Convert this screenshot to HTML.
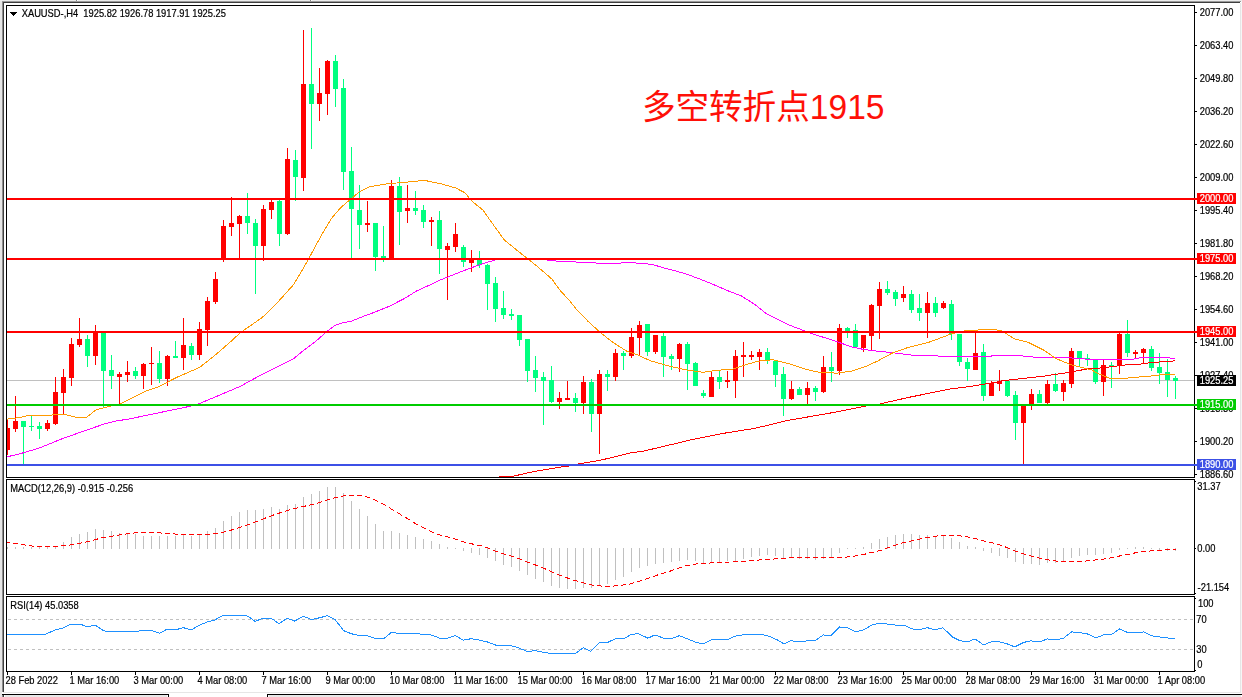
<!DOCTYPE html><html><head><meta charset="utf-8"><title>XAUUSD H4</title>
<style>html,body{margin:0;padding:0;background:#fff;}body{width:1242px;height:697px;overflow:hidden;font-family:"Liberation Sans",sans-serif;}svg{display:block;}text{font-family:"Liberation Sans",sans-serif;font-size:9.33px;fill:#000;}</style></head><body>
<svg width="1242" height="697" viewBox="0 0 1242 697">
<rect x="0" y="0" width="1242" height="697" fill="#fff"/>
<g shape-rendering="crispEdges">
<rect x="0" y="0" width="1242" height="1" fill="#ececec"/>
<rect x="0" y="1" width="1241" height="1" fill="#9a9a9a"/>
<rect x="76" y="0" width="1" height="1" fill="#808080"/><rect x="77" y="0" width="1" height="1" fill="#fff"/>
<rect x="310" y="0" width="1" height="1" fill="#808080"/><rect x="311" y="0" width="1" height="1" fill="#fff"/>
<rect x="2" y="2" width="1238" height="1" fill="#3e3e3e"/>
<rect x="0" y="1" width="2" height="696" fill="#e6e6e6"/>
<rect x="2" y="2" width="1" height="690" fill="#8e8e8e"/>
<rect x="3" y="2" width="1" height="690" fill="#404040"/>
<rect x="1240" y="3" width="1" height="690" fill="#e6e6e6"/>
<rect x="1241" y="1" width="1" height="693" fill="#f6f6f6"/>
<rect x="3" y="692" width="1238" height="1" fill="#e6e6e6"/>
<rect x="2" y="694" width="167" height="1" fill="#000"/>
<rect x="267" y="694" width="975" height="1" fill="#000"/>
<rect x="5" y="695" width="162" height="2" fill="#e8e8e8"/>
<rect x="269" y="695" width="972" height="2" fill="#e8e8e8"/>
<rect x="2" y="695" width="1" height="2" fill="#8e8e8e"/>
<rect x="3" y="695" width="1" height="2" fill="#404040"/>
<rect x="168" y="694" width="1" height="3" fill="#000"/>
<rect x="267" y="694" width="1" height="3" fill="#000"/>
</g>
<defs><clipPath id="cm"><rect x="7" y="6" width="1187" height="471"/></clipPath><clipPath id="cd"><rect x="7" y="480" width="1187" height="114"/></clipPath><clipPath id="cr"><rect x="7" y="597" width="1187" height="74"/></clipPath></defs>
<g clip-path="url(#cm)">
<rect x="7" y="380" width="1187" height="1" fill="#c0c0c0" shape-rendering="crispEdges"/>
<g shape-rendering="crispEdges">
<rect x="7" y="420" width="1" height="35" fill="#ff0000"/>
<rect x="5" y="428" width="5" height="22" fill="#ff0000"/>
<rect x="15" y="396" width="1" height="36" fill="#ff0000"/>
<rect x="13" y="421" width="5" height="8" fill="#ff0000"/>
<rect x="23" y="421" width="1" height="43" fill="#00ff7f"/>
<rect x="21" y="421" width="5" height="6" fill="#00ff7f"/>
<rect x="31" y="416" width="1" height="15" fill="#00ff7f"/>
<rect x="29" y="426" width="5" height="1" fill="#00ff7f"/>
<rect x="39" y="422" width="1" height="17" fill="#00ff7f"/>
<rect x="37" y="426" width="5" height="3" fill="#00ff7f"/>
<rect x="47" y="420" width="1" height="11" fill="#ff0000"/>
<rect x="45" y="423" width="5" height="6" fill="#ff0000"/>
<rect x="55" y="377" width="1" height="48" fill="#ff0000"/>
<rect x="53" y="392" width="5" height="32" fill="#ff0000"/>
<rect x="63" y="369" width="1" height="45" fill="#ff0000"/>
<rect x="61" y="377" width="5" height="16" fill="#ff0000"/>
<rect x="71" y="338" width="1" height="48" fill="#ff0000"/>
<rect x="69" y="344" width="5" height="34" fill="#ff0000"/>
<rect x="79" y="318" width="1" height="29" fill="#ff0000"/>
<rect x="77" y="339" width="5" height="6" fill="#ff0000"/>
<rect x="87" y="335" width="1" height="32" fill="#00ff7f"/>
<rect x="85" y="339" width="5" height="17" fill="#00ff7f"/>
<rect x="95" y="325" width="1" height="40" fill="#ff0000"/>
<rect x="93" y="333" width="5" height="23" fill="#ff0000"/>
<rect x="103" y="333" width="1" height="75" fill="#00ff7f"/>
<rect x="101" y="333" width="5" height="38" fill="#00ff7f"/>
<rect x="111" y="355" width="1" height="34" fill="#00ff7f"/>
<rect x="109" y="370" width="5" height="6" fill="#00ff7f"/>
<rect x="119" y="372" width="1" height="32" fill="#ff0000"/>
<rect x="117" y="374" width="5" height="3" fill="#ff0000"/>
<rect x="127" y="361" width="1" height="21" fill="#ff0000"/>
<rect x="125" y="372" width="5" height="3" fill="#ff0000"/>
<rect x="135" y="367" width="1" height="12" fill="#00ff7f"/>
<rect x="133" y="371" width="5" height="5" fill="#00ff7f"/>
<rect x="143" y="363" width="1" height="26" fill="#ff0000"/>
<rect x="141" y="364" width="5" height="12" fill="#ff0000"/>
<rect x="151" y="347" width="1" height="38" fill="#ff0000"/>
<rect x="149" y="363" width="5" height="1" fill="#ff0000"/>
<rect x="159" y="351" width="1" height="32" fill="#00ff7f"/>
<rect x="157" y="363" width="5" height="16" fill="#00ff7f"/>
<rect x="167" y="355" width="1" height="31" fill="#ff0000"/>
<rect x="165" y="356" width="5" height="23" fill="#ff0000"/>
<rect x="175" y="341" width="1" height="17" fill="#00ff7f"/>
<rect x="173" y="356" width="5" height="2" fill="#00ff7f"/>
<rect x="183" y="318" width="1" height="52" fill="#ff0000"/>
<rect x="181" y="345" width="5" height="13" fill="#ff0000"/>
<rect x="191" y="343" width="1" height="17" fill="#00ff7f"/>
<rect x="189" y="346" width="5" height="9" fill="#00ff7f"/>
<rect x="199" y="322" width="1" height="38" fill="#ff0000"/>
<rect x="197" y="329" width="5" height="26" fill="#ff0000"/>
<rect x="207" y="297" width="1" height="49" fill="#ff0000"/>
<rect x="205" y="301" width="5" height="29" fill="#ff0000"/>
<rect x="215" y="272" width="1" height="32" fill="#ff0000"/>
<rect x="213" y="279" width="5" height="23" fill="#ff0000"/>
<rect x="223" y="220" width="1" height="42" fill="#ff0000"/>
<rect x="221" y="226" width="5" height="33" fill="#ff0000"/>
<rect x="231" y="197" width="1" height="39" fill="#ff0000"/>
<rect x="229" y="223" width="5" height="4" fill="#ff0000"/>
<rect x="239" y="215" width="1" height="44" fill="#ff0000"/>
<rect x="237" y="216" width="5" height="8" fill="#ff0000"/>
<rect x="247" y="193" width="1" height="41" fill="#00ff7f"/>
<rect x="245" y="216" width="5" height="7" fill="#00ff7f"/>
<rect x="255" y="219" width="1" height="75" fill="#00ff7f"/>
<rect x="253" y="223" width="5" height="23" fill="#00ff7f"/>
<rect x="263" y="205" width="1" height="56" fill="#ff0000"/>
<rect x="261" y="209" width="5" height="37" fill="#ff0000"/>
<rect x="271" y="200" width="1" height="19" fill="#ff0000"/>
<rect x="269" y="202" width="5" height="8" fill="#ff0000"/>
<rect x="279" y="200" width="1" height="46" fill="#00ff7f"/>
<rect x="277" y="201" width="5" height="33" fill="#00ff7f"/>
<rect x="287" y="148" width="1" height="87" fill="#ff0000"/>
<rect x="285" y="159" width="5" height="75" fill="#ff0000"/>
<rect x="295" y="150" width="1" height="51" fill="#00ff7f"/>
<rect x="293" y="160" width="5" height="17" fill="#00ff7f"/>
<rect x="303" y="30" width="1" height="161" fill="#ff0000"/>
<rect x="301" y="84" width="5" height="94" fill="#ff0000"/>
<rect x="311" y="28" width="1" height="121" fill="#00ff7f"/>
<rect x="309" y="84" width="5" height="20" fill="#00ff7f"/>
<rect x="319" y="68" width="1" height="53" fill="#ff0000"/>
<rect x="317" y="93" width="5" height="11" fill="#ff0000"/>
<rect x="327" y="60" width="1" height="55" fill="#ff0000"/>
<rect x="325" y="61" width="5" height="33" fill="#ff0000"/>
<rect x="335" y="55" width="1" height="52" fill="#00ff7f"/>
<rect x="333" y="61" width="5" height="28" fill="#00ff7f"/>
<rect x="343" y="79" width="1" height="111" fill="#00ff7f"/>
<rect x="341" y="88" width="5" height="84" fill="#00ff7f"/>
<rect x="351" y="147" width="1" height="111" fill="#00ff7f"/>
<rect x="349" y="171" width="5" height="38" fill="#00ff7f"/>
<rect x="359" y="185" width="1" height="64" fill="#00ff7f"/>
<rect x="357" y="210" width="5" height="15" fill="#00ff7f"/>
<rect x="367" y="201" width="1" height="31" fill="#ff0000"/>
<rect x="365" y="223" width="5" height="2" fill="#ff0000"/>
<rect x="375" y="223" width="1" height="48" fill="#00ff7f"/>
<rect x="373" y="223" width="5" height="34" fill="#00ff7f"/>
<rect x="383" y="226" width="1" height="36" fill="#00ff7f"/>
<rect x="381" y="256" width="5" height="2" fill="#00ff7f"/>
<rect x="391" y="180" width="1" height="80" fill="#ff0000"/>
<rect x="389" y="186" width="5" height="73" fill="#ff0000"/>
<rect x="399" y="177" width="1" height="68" fill="#00ff7f"/>
<rect x="397" y="186" width="5" height="26" fill="#00ff7f"/>
<rect x="407" y="185" width="1" height="38" fill="#ff0000"/>
<rect x="405" y="208" width="5" height="3" fill="#ff0000"/>
<rect x="415" y="191" width="1" height="24" fill="#00ff7f"/>
<rect x="413" y="208" width="5" height="3" fill="#00ff7f"/>
<rect x="423" y="205" width="1" height="23" fill="#00ff7f"/>
<rect x="421" y="210" width="5" height="12" fill="#00ff7f"/>
<rect x="431" y="217" width="1" height="29" fill="#ff0000"/>
<rect x="429" y="220" width="5" height="2" fill="#ff0000"/>
<rect x="439" y="211" width="1" height="63" fill="#00ff7f"/>
<rect x="437" y="220" width="5" height="29" fill="#00ff7f"/>
<rect x="447" y="243" width="1" height="57" fill="#ff0000"/>
<rect x="445" y="246" width="5" height="4" fill="#ff0000"/>
<rect x="455" y="223" width="1" height="29" fill="#ff0000"/>
<rect x="453" y="234" width="5" height="13" fill="#ff0000"/>
<rect x="463" y="245" width="1" height="22" fill="#00ff7f"/>
<rect x="461" y="247" width="5" height="15" fill="#00ff7f"/>
<rect x="471" y="250" width="1" height="22" fill="#ff0000"/>
<rect x="469" y="258" width="5" height="5" fill="#ff0000"/>
<rect x="479" y="251" width="1" height="17" fill="#00ff7f"/>
<rect x="477" y="258" width="5" height="7" fill="#00ff7f"/>
<rect x="487" y="264" width="1" height="46" fill="#00ff7f"/>
<rect x="485" y="265" width="5" height="19" fill="#00ff7f"/>
<rect x="495" y="277" width="1" height="45" fill="#00ff7f"/>
<rect x="493" y="283" width="5" height="26" fill="#00ff7f"/>
<rect x="503" y="291" width="1" height="28" fill="#00ff7f"/>
<rect x="501" y="308" width="5" height="7" fill="#00ff7f"/>
<rect x="511" y="309" width="1" height="11" fill="#00ff7f"/>
<rect x="509" y="314" width="5" height="2" fill="#00ff7f"/>
<rect x="519" y="315" width="1" height="31" fill="#00ff7f"/>
<rect x="517" y="315" width="5" height="25" fill="#00ff7f"/>
<rect x="527" y="339" width="1" height="43" fill="#00ff7f"/>
<rect x="525" y="339" width="5" height="32" fill="#00ff7f"/>
<rect x="535" y="356" width="1" height="36" fill="#00ff7f"/>
<rect x="533" y="370" width="5" height="8" fill="#00ff7f"/>
<rect x="543" y="372" width="1" height="53" fill="#00ff7f"/>
<rect x="541" y="377" width="5" height="4" fill="#00ff7f"/>
<rect x="551" y="366" width="1" height="37" fill="#00ff7f"/>
<rect x="549" y="380" width="5" height="22" fill="#00ff7f"/>
<rect x="559" y="392" width="1" height="17" fill="#ff0000"/>
<rect x="557" y="398" width="5" height="4" fill="#ff0000"/>
<rect x="567" y="381" width="1" height="19" fill="#ff0000"/>
<rect x="565" y="398" width="5" height="2" fill="#ff0000"/>
<rect x="575" y="393" width="1" height="19" fill="#00ff7f"/>
<rect x="573" y="398" width="5" height="5" fill="#00ff7f"/>
<rect x="583" y="376" width="1" height="38" fill="#ff0000"/>
<rect x="581" y="382" width="5" height="21" fill="#ff0000"/>
<rect x="591" y="379" width="1" height="53" fill="#00ff7f"/>
<rect x="589" y="382" width="5" height="32" fill="#00ff7f"/>
<rect x="599" y="370" width="1" height="84" fill="#ff0000"/>
<rect x="597" y="374" width="5" height="40" fill="#ff0000"/>
<rect x="607" y="370" width="1" height="21" fill="#00ff7f"/>
<rect x="605" y="374" width="5" height="3" fill="#00ff7f"/>
<rect x="615" y="349" width="1" height="32" fill="#ff0000"/>
<rect x="613" y="353" width="5" height="24" fill="#ff0000"/>
<rect x="623" y="351" width="1" height="19" fill="#00ff7f"/>
<rect x="621" y="353" width="5" height="3" fill="#00ff7f"/>
<rect x="631" y="328" width="1" height="30" fill="#ff0000"/>
<rect x="629" y="337" width="5" height="19" fill="#ff0000"/>
<rect x="639" y="321" width="1" height="34" fill="#ff0000"/>
<rect x="637" y="325" width="5" height="13" fill="#ff0000"/>
<rect x="647" y="324" width="1" height="32" fill="#00ff7f"/>
<rect x="645" y="324" width="5" height="28" fill="#00ff7f"/>
<rect x="655" y="335" width="1" height="19" fill="#ff0000"/>
<rect x="653" y="335" width="5" height="17" fill="#ff0000"/>
<rect x="663" y="333" width="1" height="44" fill="#00ff7f"/>
<rect x="661" y="336" width="5" height="21" fill="#00ff7f"/>
<rect x="671" y="354" width="1" height="16" fill="#00ff7f"/>
<rect x="669" y="356" width="5" height="3" fill="#00ff7f"/>
<rect x="679" y="343" width="1" height="29" fill="#ff0000"/>
<rect x="677" y="344" width="5" height="15" fill="#ff0000"/>
<rect x="687" y="342" width="1" height="48" fill="#00ff7f"/>
<rect x="685" y="344" width="5" height="20" fill="#00ff7f"/>
<rect x="695" y="362" width="1" height="24" fill="#00ff7f"/>
<rect x="693" y="363" width="5" height="23" fill="#00ff7f"/>
<rect x="703" y="390" width="1" height="8" fill="#00ff7f"/>
<rect x="701" y="393" width="5" height="3" fill="#00ff7f"/>
<rect x="711" y="372" width="1" height="25" fill="#ff0000"/>
<rect x="709" y="377" width="5" height="20" fill="#ff0000"/>
<rect x="719" y="371" width="1" height="18" fill="#00ff7f"/>
<rect x="717" y="377" width="5" height="5" fill="#00ff7f"/>
<rect x="727" y="371" width="1" height="17" fill="#ff0000"/>
<rect x="725" y="380" width="5" height="2" fill="#ff0000"/>
<rect x="735" y="350" width="1" height="48" fill="#ff0000"/>
<rect x="733" y="356" width="5" height="25" fill="#ff0000"/>
<rect x="743" y="342" width="1" height="35" fill="#ff0000"/>
<rect x="741" y="355" width="5" height="2" fill="#ff0000"/>
<rect x="751" y="351" width="1" height="9" fill="#ff0000"/>
<rect x="749" y="355" width="5" height="2" fill="#ff0000"/>
<rect x="759" y="349" width="1" height="21" fill="#ff0000"/>
<rect x="757" y="352" width="5" height="5" fill="#ff0000"/>
<rect x="767" y="348" width="1" height="16" fill="#00ff7f"/>
<rect x="765" y="352" width="5" height="9" fill="#00ff7f"/>
<rect x="775" y="361" width="1" height="26" fill="#00ff7f"/>
<rect x="773" y="361" width="5" height="14" fill="#00ff7f"/>
<rect x="783" y="367" width="1" height="49" fill="#00ff7f"/>
<rect x="781" y="374" width="5" height="25" fill="#00ff7f"/>
<rect x="791" y="381" width="1" height="19" fill="#ff0000"/>
<rect x="789" y="389" width="5" height="10" fill="#ff0000"/>
<rect x="799" y="387" width="1" height="8" fill="#00ff7f"/>
<rect x="797" y="389" width="5" height="6" fill="#00ff7f"/>
<rect x="807" y="382" width="1" height="22" fill="#ff0000"/>
<rect x="805" y="388" width="5" height="7" fill="#ff0000"/>
<rect x="815" y="386" width="1" height="15" fill="#00ff7f"/>
<rect x="813" y="388" width="5" height="4" fill="#00ff7f"/>
<rect x="823" y="356" width="1" height="37" fill="#ff0000"/>
<rect x="821" y="367" width="5" height="25" fill="#ff0000"/>
<rect x="831" y="352" width="1" height="30" fill="#00ff7f"/>
<rect x="829" y="367" width="5" height="4" fill="#00ff7f"/>
<rect x="839" y="324" width="1" height="51" fill="#ff0000"/>
<rect x="837" y="328" width="5" height="43" fill="#ff0000"/>
<rect x="847" y="327" width="1" height="11" fill="#00ff7f"/>
<rect x="845" y="328" width="5" height="4" fill="#00ff7f"/>
<rect x="855" y="324" width="1" height="23" fill="#00ff7f"/>
<rect x="853" y="330" width="5" height="17" fill="#00ff7f"/>
<rect x="863" y="335" width="1" height="17" fill="#ff0000"/>
<rect x="861" y="335" width="5" height="13" fill="#ff0000"/>
<rect x="871" y="304" width="1" height="46" fill="#ff0000"/>
<rect x="869" y="305" width="5" height="31" fill="#ff0000"/>
<rect x="879" y="282" width="1" height="57" fill="#ff0000"/>
<rect x="877" y="289" width="5" height="17" fill="#ff0000"/>
<rect x="887" y="281" width="1" height="14" fill="#00ff7f"/>
<rect x="885" y="289" width="5" height="4" fill="#00ff7f"/>
<rect x="895" y="290" width="1" height="16" fill="#00ff7f"/>
<rect x="893" y="292" width="5" height="7" fill="#00ff7f"/>
<rect x="903" y="286" width="1" height="16" fill="#ff0000"/>
<rect x="901" y="294" width="5" height="4" fill="#ff0000"/>
<rect x="911" y="290" width="1" height="23" fill="#00ff7f"/>
<rect x="909" y="294" width="5" height="16" fill="#00ff7f"/>
<rect x="919" y="294" width="1" height="27" fill="#00ff7f"/>
<rect x="917" y="308" width="5" height="5" fill="#00ff7f"/>
<rect x="927" y="292" width="1" height="46" fill="#ff0000"/>
<rect x="925" y="303" width="5" height="10" fill="#ff0000"/>
<rect x="935" y="297" width="1" height="20" fill="#00ff7f"/>
<rect x="933" y="303" width="5" height="10" fill="#00ff7f"/>
<rect x="943" y="301" width="1" height="8" fill="#ff0000"/>
<rect x="941" y="303" width="5" height="5" fill="#ff0000"/>
<rect x="951" y="300" width="1" height="40" fill="#00ff7f"/>
<rect x="949" y="304" width="5" height="30" fill="#00ff7f"/>
<rect x="959" y="334" width="1" height="32" fill="#00ff7f"/>
<rect x="957" y="334" width="5" height="28" fill="#00ff7f"/>
<rect x="967" y="358" width="1" height="23" fill="#00ff7f"/>
<rect x="965" y="362" width="5" height="7" fill="#00ff7f"/>
<rect x="975" y="333" width="1" height="37" fill="#ff0000"/>
<rect x="973" y="353" width="5" height="17" fill="#ff0000"/>
<rect x="983" y="344" width="1" height="57" fill="#00ff7f"/>
<rect x="981" y="352" width="5" height="44" fill="#00ff7f"/>
<rect x="991" y="381" width="1" height="15" fill="#ff0000"/>
<rect x="989" y="383" width="5" height="13" fill="#ff0000"/>
<rect x="999" y="370" width="1" height="21" fill="#ff0000"/>
<rect x="997" y="381" width="5" height="3" fill="#ff0000"/>
<rect x="1007" y="381" width="1" height="16" fill="#00ff7f"/>
<rect x="1005" y="381" width="5" height="15" fill="#00ff7f"/>
<rect x="1015" y="391" width="1" height="49" fill="#00ff7f"/>
<rect x="1013" y="395" width="5" height="28" fill="#00ff7f"/>
<rect x="1023" y="404" width="1" height="60" fill="#ff0000"/>
<rect x="1021" y="404" width="5" height="19" fill="#ff0000"/>
<rect x="1031" y="389" width="1" height="21" fill="#ff0000"/>
<rect x="1029" y="394" width="5" height="10" fill="#ff0000"/>
<rect x="1039" y="390" width="1" height="13" fill="#00ff7f"/>
<rect x="1037" y="394" width="5" height="9" fill="#00ff7f"/>
<rect x="1047" y="380" width="1" height="24" fill="#ff0000"/>
<rect x="1045" y="384" width="5" height="19" fill="#ff0000"/>
<rect x="1055" y="373" width="1" height="19" fill="#00ff7f"/>
<rect x="1053" y="384" width="5" height="7" fill="#00ff7f"/>
<rect x="1063" y="380" width="1" height="21" fill="#ff0000"/>
<rect x="1061" y="383" width="5" height="9" fill="#ff0000"/>
<rect x="1071" y="348" width="1" height="40" fill="#ff0000"/>
<rect x="1069" y="351" width="5" height="33" fill="#ff0000"/>
<rect x="1079" y="351" width="1" height="16" fill="#00ff7f"/>
<rect x="1077" y="351" width="5" height="7" fill="#00ff7f"/>
<rect x="1087" y="354" width="1" height="12" fill="#00ff7f"/>
<rect x="1085" y="358" width="5" height="2" fill="#00ff7f"/>
<rect x="1095" y="360" width="1" height="24" fill="#00ff7f"/>
<rect x="1093" y="360" width="5" height="22" fill="#00ff7f"/>
<rect x="1103" y="360" width="1" height="36" fill="#ff0000"/>
<rect x="1101" y="365" width="5" height="17" fill="#ff0000"/>
<rect x="1111" y="362" width="1" height="26" fill="#00ff7f"/>
<rect x="1109" y="365" width="5" height="1" fill="#00ff7f"/>
<rect x="1119" y="333" width="1" height="41" fill="#ff0000"/>
<rect x="1117" y="334" width="5" height="32" fill="#ff0000"/>
<rect x="1127" y="320" width="1" height="37" fill="#00ff7f"/>
<rect x="1125" y="334" width="5" height="19" fill="#00ff7f"/>
<rect x="1135" y="350" width="1" height="8" fill="#ff0000"/>
<rect x="1133" y="352" width="5" height="2" fill="#ff0000"/>
<rect x="1143" y="348" width="1" height="16" fill="#ff0000"/>
<rect x="1141" y="349" width="5" height="4" fill="#ff0000"/>
<rect x="1151" y="346" width="1" height="25" fill="#00ff7f"/>
<rect x="1149" y="349" width="5" height="19" fill="#00ff7f"/>
<rect x="1159" y="353" width="1" height="31" fill="#00ff7f"/>
<rect x="1157" y="367" width="5" height="6" fill="#00ff7f"/>
<rect x="1167" y="359" width="1" height="38" fill="#00ff7f"/>
<rect x="1165" y="372" width="5" height="8" fill="#00ff7f"/>
<rect x="1175" y="376" width="1" height="23" fill="#00ff7f"/>
<rect x="1173" y="378" width="5" height="3" fill="#00ff7f"/>
</g>
<polyline fill="none" stroke="#ff0000" stroke-width="1" shape-rendering="crispEdges" points="499.0,476.5 512.0,476.5 533.0,471.7 560.0,467.2 569.0,466.0 579.5,463.7 599.0,460.5 612.0,457.5 630.0,453.0 645.0,450.8 691.7,439.7 721.9,433.6 755.0,428.3 788.0,420.4 831.1,412.9 869.8,405.3 878.0,404.4 908.0,397.5 951.0,388.9 972.6,386.1 995.0,382.4 1001.5,380.8 1044.6,376.0 1066.0,372.8 1087.6,368.9 1099.5,368.1 1113.7,366.5 1124.7,365.0 1137.3,364.6 1153.0,362.3 1169.0,361.5 1175.2,360.7"/>
<polyline fill="none" stroke="#ff00ff" stroke-width="1" shape-rendering="crispEdges" points="6.8,456.8 16.8,454.7 39.8,447.9 62.9,438.4 83.8,431.1 104.8,423.8 115.2,421.2 130.0,418.8 188.9,406.5 197.5,404.4 240.0,386.5 258.9,376.1 277.9,366.6 293.6,358.7 303.1,350.8 315.7,341.4 328.3,330.3 334.6,325.6 341.0,323.1 350.4,321.5 359.9,317.7 372.5,313.0 388.3,306.7 404.0,298.8 416.7,290.9 429.3,285.2 440.0,280.1 461.5,271.5 483.0,263.5 492.0,261.0 496.0,259.5 510.0,258.5 540.0,258.5 546.0,259.5 548.0,260.5 564.0,261.5 588.0,262.5 604.0,263.5 615.0,263.5 627.0,262.5 644.0,263.5 652.7,264.5 662.4,267.5 685.0,273.5 701.0,279.5 717.0,286.0 727.2,290.5 741.2,295.9 755.0,304.5 766.5,313.9 788.0,324.6 805.3,331.1 813.9,334.3 831.1,339.7 852.6,347.2 865.0,349.7 878.0,351.2 893.0,352.7 916.7,355.7 951.0,356.2 972.6,356.6 995.0,355.9 1001.5,355.4 1018.7,355.5 1033.8,357.1 1066.0,357.5 1087.6,359.2 1094.7,359.9 1129.5,359.9 1140.5,357.8 1153.0,357.5 1169.0,357.8 1175.2,359.1"/>
<polyline fill="none" stroke="#ff9a00" stroke-width="1" shape-rendering="crispEdges" points="6.8,419.1 18.9,417.7 27.2,415.7 50.3,415.7 52.4,414.9 67.0,414.9 73.3,416.5 78.6,417.8 86.9,417.0 96.4,409.6 108.9,406.5 119.4,404.4 145.8,391.0 158.7,386.7 176.0,377.7 199.6,367.4 214.7,355.5 232.0,340.5 240.0,332.9 262.0,317.7 277.9,302.0 293.6,284.6 303.1,268.8 312.6,251.5 322.0,234.1 331.5,218.4 341.0,207.3 350.4,199.4 359.9,191.5 369.3,186.8 388.3,183.7 407.2,182.1 421.0,180.7 427.5,181.0 442.6,184.2 455.5,187.9 465.0,192.8 471.2,200.5 483.0,210.2 496.0,228.5 504.6,240.3 526.0,257.5 536.9,266.1 551.9,279.1 560.5,290.9 570.0,301.2 577.4,310.5 588.0,321.3 601.0,333.1 611.9,341.7 627.0,351.4 637.9,355.1 650.8,360.9 668.0,365.8 685.3,369.7 702.5,372.3 715.4,370.5 732.6,369.1 745.5,364.8 757.9,361.2 773.0,359.7 788.0,363.4 805.3,369.2 820.3,372.6 837.6,373.1 852.6,370.9 865.5,366.6 877.9,360.9 893.0,352.7 908.0,347.5 929.6,342.0 951.0,334.0 961.9,331.2 972.6,330.1 995.0,329.7 1001.5,330.8 1014.4,338.8 1027.4,342.0 1044.6,350.6 1055.3,358.2 1070.4,364.6 1091.9,370.0 1096.3,372.8 1104.2,376.0 1110.5,378.7 1121.6,378.7 1134.2,377.3 1146.8,376.5 1159.4,374.9 1175.2,374.9"/>
</g>
<text x="641.9" y="119" textLength="242.6" lengthAdjust="spacingAndGlyphs" style="font-family:'Liberation Sans','Noto Sans CJK SC',sans-serif;font-size:34.3px;fill:#ff1008">多空转折点1915</text>
<g clip-path="url(#cd)">
<g shape-rendering="crispEdges">
<rect x="7" y="547" width="1" height="2" fill="#c0c0c0"/>
<rect x="15" y="547" width="1" height="2" fill="#c0c0c0"/>
<rect x="23" y="547" width="1" height="2" fill="#c0c0c0"/>
<rect x="31" y="547" width="1" height="2" fill="#c0c0c0"/>
<rect x="39" y="546" width="1" height="3" fill="#c0c0c0"/>
<rect x="47" y="546" width="1" height="3" fill="#c0c0c0"/>
<rect x="55" y="546" width="1" height="3" fill="#c0c0c0"/>
<rect x="63" y="542" width="1" height="7" fill="#c0c0c0"/>
<rect x="71" y="537" width="1" height="12" fill="#c0c0c0"/>
<rect x="79" y="534" width="1" height="15" fill="#c0c0c0"/>
<rect x="87" y="532" width="1" height="17" fill="#c0c0c0"/>
<rect x="95" y="529" width="1" height="20" fill="#c0c0c0"/>
<rect x="103" y="530" width="1" height="19" fill="#c0c0c0"/>
<rect x="111" y="531" width="1" height="18" fill="#c0c0c0"/>
<rect x="119" y="533" width="1" height="16" fill="#c0c0c0"/>
<rect x="127" y="534" width="1" height="15" fill="#c0c0c0"/>
<rect x="135" y="534" width="1" height="15" fill="#c0c0c0"/>
<rect x="143" y="536" width="1" height="13" fill="#c0c0c0"/>
<rect x="151" y="536" width="1" height="13" fill="#c0c0c0"/>
<rect x="159" y="536" width="1" height="13" fill="#c0c0c0"/>
<rect x="167" y="536" width="1" height="13" fill="#c0c0c0"/>
<rect x="175" y="536" width="1" height="13" fill="#c0c0c0"/>
<rect x="183" y="535" width="1" height="14" fill="#c0c0c0"/>
<rect x="191" y="536" width="1" height="13" fill="#c0c0c0"/>
<rect x="199" y="535" width="1" height="14" fill="#c0c0c0"/>
<rect x="207" y="531" width="1" height="18" fill="#c0c0c0"/>
<rect x="215" y="528" width="1" height="21" fill="#c0c0c0"/>
<rect x="223" y="521" width="1" height="28" fill="#c0c0c0"/>
<rect x="231" y="516" width="1" height="33" fill="#c0c0c0"/>
<rect x="239" y="512" width="1" height="37" fill="#c0c0c0"/>
<rect x="247" y="510" width="1" height="39" fill="#c0c0c0"/>
<rect x="255" y="510" width="1" height="39" fill="#c0c0c0"/>
<rect x="263" y="509" width="1" height="40" fill="#c0c0c0"/>
<rect x="271" y="507" width="1" height="42" fill="#c0c0c0"/>
<rect x="279" y="509" width="1" height="40" fill="#c0c0c0"/>
<rect x="287" y="505" width="1" height="44" fill="#c0c0c0"/>
<rect x="295" y="504" width="1" height="45" fill="#c0c0c0"/>
<rect x="303" y="497" width="1" height="52" fill="#c0c0c0"/>
<rect x="311" y="494" width="1" height="55" fill="#c0c0c0"/>
<rect x="319" y="491" width="1" height="58" fill="#c0c0c0"/>
<rect x="327" y="487" width="1" height="62" fill="#c0c0c0"/>
<rect x="335" y="487" width="1" height="62" fill="#c0c0c0"/>
<rect x="343" y="493" width="1" height="56" fill="#c0c0c0"/>
<rect x="351" y="501" width="1" height="48" fill="#c0c0c0"/>
<rect x="359" y="509" width="1" height="40" fill="#c0c0c0"/>
<rect x="367" y="516" width="1" height="33" fill="#c0c0c0"/>
<rect x="375" y="524" width="1" height="25" fill="#c0c0c0"/>
<rect x="383" y="531" width="1" height="18" fill="#c0c0c0"/>
<rect x="391" y="531" width="1" height="18" fill="#c0c0c0"/>
<rect x="399" y="533" width="1" height="16" fill="#c0c0c0"/>
<rect x="407" y="535" width="1" height="14" fill="#c0c0c0"/>
<rect x="415" y="537" width="1" height="12" fill="#c0c0c0"/>
<rect x="423" y="539" width="1" height="10" fill="#c0c0c0"/>
<rect x="431" y="541" width="1" height="8" fill="#c0c0c0"/>
<rect x="439" y="544" width="1" height="5" fill="#c0c0c0"/>
<rect x="447" y="547" width="1" height="2" fill="#c0c0c0"/>
<rect x="455" y="548" width="1" height="1" fill="#c0c0c0"/>
<rect x="463" y="548" width="1" height="3" fill="#c0c0c0"/>
<rect x="471" y="548" width="1" height="5" fill="#c0c0c0"/>
<rect x="479" y="548" width="1" height="7" fill="#c0c0c0"/>
<rect x="487" y="548" width="1" height="10" fill="#c0c0c0"/>
<rect x="495" y="548" width="1" height="13" fill="#c0c0c0"/>
<rect x="503" y="548" width="1" height="17" fill="#c0c0c0"/>
<rect x="511" y="548" width="1" height="19" fill="#c0c0c0"/>
<rect x="519" y="548" width="1" height="23" fill="#c0c0c0"/>
<rect x="527" y="548" width="1" height="27" fill="#c0c0c0"/>
<rect x="535" y="548" width="1" height="31" fill="#c0c0c0"/>
<rect x="543" y="548" width="1" height="34" fill="#c0c0c0"/>
<rect x="551" y="548" width="1" height="38" fill="#c0c0c0"/>
<rect x="559" y="548" width="1" height="40" fill="#c0c0c0"/>
<rect x="567" y="548" width="1" height="41" fill="#c0c0c0"/>
<rect x="575" y="548" width="1" height="41" fill="#c0c0c0"/>
<rect x="583" y="548" width="1" height="40" fill="#c0c0c0"/>
<rect x="591" y="548" width="1" height="40" fill="#c0c0c0"/>
<rect x="599" y="548" width="1" height="37" fill="#c0c0c0"/>
<rect x="607" y="548" width="1" height="36" fill="#c0c0c0"/>
<rect x="615" y="548" width="1" height="32" fill="#c0c0c0"/>
<rect x="623" y="548" width="1" height="29" fill="#c0c0c0"/>
<rect x="631" y="548" width="1" height="24" fill="#c0c0c0"/>
<rect x="639" y="548" width="1" height="20" fill="#c0c0c0"/>
<rect x="647" y="548" width="1" height="18" fill="#c0c0c0"/>
<rect x="655" y="548" width="1" height="16" fill="#c0c0c0"/>
<rect x="663" y="548" width="1" height="15" fill="#c0c0c0"/>
<rect x="671" y="548" width="1" height="14" fill="#c0c0c0"/>
<rect x="679" y="548" width="1" height="13" fill="#c0c0c0"/>
<rect x="687" y="548" width="1" height="12" fill="#c0c0c0"/>
<rect x="695" y="548" width="1" height="13" fill="#c0c0c0"/>
<rect x="703" y="548" width="1" height="15" fill="#c0c0c0"/>
<rect x="711" y="548" width="1" height="15" fill="#c0c0c0"/>
<rect x="719" y="548" width="1" height="15" fill="#c0c0c0"/>
<rect x="727" y="548" width="1" height="13" fill="#c0c0c0"/>
<rect x="735" y="548" width="1" height="13" fill="#c0c0c0"/>
<rect x="743" y="548" width="1" height="11" fill="#c0c0c0"/>
<rect x="751" y="548" width="1" height="9" fill="#c0c0c0"/>
<rect x="759" y="548" width="1" height="8" fill="#c0c0c0"/>
<rect x="767" y="548" width="1" height="7" fill="#c0c0c0"/>
<rect x="775" y="548" width="1" height="8" fill="#c0c0c0"/>
<rect x="783" y="548" width="1" height="10" fill="#c0c0c0"/>
<rect x="791" y="548" width="1" height="10" fill="#c0c0c0"/>
<rect x="799" y="548" width="1" height="11" fill="#c0c0c0"/>
<rect x="807" y="548" width="1" height="11" fill="#c0c0c0"/>
<rect x="815" y="548" width="1" height="12" fill="#c0c0c0"/>
<rect x="823" y="548" width="1" height="11" fill="#c0c0c0"/>
<rect x="831" y="548" width="1" height="9" fill="#c0c0c0"/>
<rect x="839" y="548" width="1" height="5" fill="#c0c0c0"/>
<rect x="847" y="548" width="1" height="1" fill="#c0c0c0"/>
<rect x="855" y="548" width="1" height="1" fill="#c0c0c0"/>
<rect x="863" y="547" width="1" height="2" fill="#c0c0c0"/>
<rect x="871" y="543" width="1" height="6" fill="#c0c0c0"/>
<rect x="879" y="539" width="1" height="10" fill="#c0c0c0"/>
<rect x="887" y="537" width="1" height="12" fill="#c0c0c0"/>
<rect x="895" y="535" width="1" height="14" fill="#c0c0c0"/>
<rect x="903" y="534" width="1" height="15" fill="#c0c0c0"/>
<rect x="911" y="534" width="1" height="15" fill="#c0c0c0"/>
<rect x="919" y="535" width="1" height="14" fill="#c0c0c0"/>
<rect x="927" y="535" width="1" height="14" fill="#c0c0c0"/>
<rect x="935" y="536" width="1" height="13" fill="#c0c0c0"/>
<rect x="943" y="536" width="1" height="13" fill="#c0c0c0"/>
<rect x="951" y="538" width="1" height="11" fill="#c0c0c0"/>
<rect x="959" y="542" width="1" height="7" fill="#c0c0c0"/>
<rect x="967" y="546" width="1" height="3" fill="#c0c0c0"/>
<rect x="975" y="547" width="1" height="2" fill="#c0c0c0"/>
<rect x="983" y="548" width="1" height="3" fill="#c0c0c0"/>
<rect x="991" y="548" width="1" height="5" fill="#c0c0c0"/>
<rect x="999" y="548" width="1" height="8" fill="#c0c0c0"/>
<rect x="1007" y="548" width="1" height="10" fill="#c0c0c0"/>
<rect x="1015" y="548" width="1" height="14" fill="#c0c0c0"/>
<rect x="1023" y="548" width="1" height="16" fill="#c0c0c0"/>
<rect x="1031" y="548" width="1" height="16" fill="#c0c0c0"/>
<rect x="1039" y="548" width="1" height="17" fill="#c0c0c0"/>
<rect x="1047" y="548" width="1" height="15" fill="#c0c0c0"/>
<rect x="1055" y="548" width="1" height="15" fill="#c0c0c0"/>
<rect x="1063" y="548" width="1" height="14" fill="#c0c0c0"/>
<rect x="1071" y="548" width="1" height="10" fill="#c0c0c0"/>
<rect x="1079" y="548" width="1" height="8" fill="#c0c0c0"/>
<rect x="1087" y="548" width="1" height="7" fill="#c0c0c0"/>
<rect x="1095" y="548" width="1" height="7" fill="#c0c0c0"/>
<rect x="1103" y="548" width="1" height="6" fill="#c0c0c0"/>
<rect x="1111" y="548" width="1" height="5" fill="#c0c0c0"/>
<rect x="1119" y="548" width="1" height="2" fill="#c0c0c0"/>
<rect x="1127" y="548" width="1" height="1" fill="#c0c0c0"/>
<rect x="1135" y="547" width="1" height="2" fill="#c0c0c0"/>
<rect x="1143" y="547" width="1" height="2" fill="#c0c0c0"/>
<rect x="1151" y="548" width="1" height="1" fill="#c0c0c0"/>
<rect x="1159" y="548" width="1" height="2" fill="#c0c0c0"/>
<rect x="1167" y="548" width="1" height="3" fill="#c0c0c0"/>
<rect x="1175" y="548" width="1" height="3" fill="#c0c0c0"/>
</g>
<path d="M5.0 542.2L10.0 542.6M13.0 543.1L18.0 544.0M21.0 544.5L26.0 545.2M29.0 545.6L34.0 546.2M37.0 546.6L42.0 546.6M45.0 546.6L50.0 546.6M53.0 546.5L58.0 546.2M61.0 545.9L66.0 545.4M69.0 545.1L74.0 544.4M77.0 543.8L82.0 542.8M85.0 542.2L90.0 541.0M93.0 540.2L98.0 538.9M101.0 538.0L106.0 537.1M109.0 536.6L114.0 535.8M117.0 535.2L122.0 534.6M125.0 534.2L130.0 533.5M133.0 533.1L138.0 532.6M141.0 532.3L146.0 532.0M149.0 532.2L154.0 532.5M157.0 532.7L162.0 533.1M165.0 533.3L170.0 533.6M173.0 533.9L178.0 534.2M181.0 534.4L186.0 534.7M189.0 534.7L194.0 534.7M197.0 534.7L202.0 534.7M205.0 534.7L210.0 534.3M213.0 533.9L218.0 533.3M221.0 532.9L226.0 531.6M229.0 530.7L234.0 529.3M237.0 528.4L242.0 526.8M245.0 525.7L250.0 523.9M253.0 522.8L258.0 520.9M261.0 519.7L266.0 517.8M269.0 516.6L274.0 514.8M277.0 513.8L282.0 512.2M285.0 511.2L290.0 509.8M293.0 509.0L298.0 507.8M301.0 507.1L306.0 505.9M309.0 505.2L314.0 504.0M317.0 503.2L322.0 501.6M325.0 500.6L330.0 499.0M333.0 498.2L338.0 497.0M341.0 496.3L346.0 495.5M349.0 495.2L354.0 495.2M357.0 495.5L362.0 496.0M365.0 496.4L370.0 497.7M373.0 498.9L378.0 501.3M381.0 502.8L386.0 505.7M389.0 507.6L394.0 510.6M397.0 512.4L402.0 515.4M405.0 517.1L410.0 520.2M413.0 522.2L418.0 525.0M421.0 526.6L426.0 529.1M429.0 530.7L434.0 532.9M437.0 534.1L442.0 535.6M445.0 536.2L450.0 537.5M453.0 538.3L458.0 540.0M461.0 541.2L466.0 542.7M469.0 543.3L474.0 544.3M477.0 544.9L482.0 546.1M485.0 547.0L490.0 548.8M493.0 550.1L498.0 552.1M501.0 553.1L506.0 554.6M509.0 555.4L514.0 557.0M517.0 558.0L522.0 559.9M525.0 561.2L530.0 563.1M533.0 564.1L538.0 565.9M541.0 567.0L546.0 569.2M549.0 570.7L554.0 572.8M557.0 574.1L562.0 576.0M565.0 577.1L570.0 578.9M573.0 579.9L578.0 581.4M581.0 582.2L586.0 583.6M589.0 584.5L594.0 585.4M597.0 585.6L602.0 586.1M605.0 586.5L610.0 586.5M613.0 586.1L618.0 585.6M621.0 585.3L626.0 584.7M629.0 584.2L634.0 582.8M637.0 581.8L642.0 580.3M645.0 579.4L650.0 577.8M653.0 576.6L658.0 574.8M661.0 573.8L666.0 572.3M669.0 571.5L674.0 569.8M677.0 568.7L682.0 567.0M685.0 566.1L690.0 565.0M693.0 564.4L698.0 563.8M701.0 563.6L706.0 563.3M709.0 563.1L714.0 562.7M717.0 562.4L722.0 562.1M725.0 562.1L730.0 562.0M733.0 561.9L738.0 561.8M741.0 561.7L746.0 561.3M749.0 560.9L754.0 560.3M757.0 560.1L762.0 559.9M765.0 559.7L770.0 559.3M773.0 559.1L778.0 558.7M781.0 558.5L786.0 558.2M789.0 558.0L794.0 557.9M797.0 557.9L802.0 557.9M805.0 557.9L810.0 557.9M813.0 557.9L818.0 557.9M821.0 557.9L826.0 557.9M829.0 557.9L834.0 557.9M837.0 557.9L842.0 557.6M845.0 557.3L850.0 556.7M853.0 556.3L858.0 555.5M861.0 555.0L866.0 553.9M869.0 553.1L874.0 552.0M877.0 551.4L882.0 549.9M885.0 548.7L890.0 546.9M893.0 545.9L898.0 544.2M901.0 543.3L906.0 542.1M909.0 541.4L914.0 540.3M917.0 539.6L922.0 538.6M925.0 538.1L930.0 537.1M933.0 536.4L938.0 535.9M941.0 535.9L946.0 535.7M949.0 535.4L954.0 535.4M957.0 535.7L962.0 536.1M965.0 536.4L970.0 537.3M973.0 538.0L978.0 539.3M981.0 540.2L986.0 541.4M989.0 542.0L994.0 543.2M997.0 544.0L1002.0 545.7M1005.0 546.8L1010.0 548.8M1013.0 550.1L1018.0 552.0M1021.0 553.0L1026.0 554.5M1029.0 555.4L1034.0 556.8M1037.0 557.6L1042.0 558.8M1045.0 559.4L1050.0 560.2M1053.0 560.6L1058.0 561.2M1061.0 561.6L1066.0 561.9M1069.0 561.8L1074.0 561.7M1077.0 561.6L1082.0 561.4M1085.0 561.1L1090.0 560.6M1093.0 560.3L1098.0 559.7M1101.0 559.4L1106.0 558.7M1109.0 558.2L1114.0 557.2M1117.0 556.5L1122.0 555.5M1125.0 555.0L1130.0 554.0M1133.0 553.3L1138.0 552.3M1141.0 551.9L1146.0 551.4M1149.0 551.1L1154.0 550.6M1157.0 550.3L1162.0 550.0M1165.0 550.0L1170.0 549.8M1173.0 549.7L1176.0 549.6" stroke="#ff0000" stroke-width="1" fill="none" shape-rendering="crispEdges"/>
</g>
<g clip-path="url(#cr)">
<g shape-rendering="crispEdges">
<line x1="8" y1="619.5" x2="1194" y2="619.5" stroke="#c0c0c0" stroke-width="1" stroke-dasharray="3,3"/>
<line x1="8" y1="649.5" x2="1194" y2="649.5" stroke="#c0c0c0" stroke-width="1" stroke-dasharray="3,3"/>
</g>
<polyline fill="none" stroke="#1e90ff" stroke-width="1" shape-rendering="crispEdges" points="7.0,634.5 15.0,634.0 35.0,634.0 38.7,635.0 46.0,634.0 55.0,630.0 62.4,628.2 71.0,624.0 80.0,624.0 87.4,627.0 95.0,625.0 103.6,630.7 111.0,632.0 118.6,631.2 131.0,631.2 134.8,632.0 142.3,630.2 151.0,630.2 159.8,633.2 167.2,629.0 174.7,630.0 183.5,627.7 191.0,630.0 199.7,625.0 207.2,622.0 214.7,620.0 223.4,615.0 243.4,615.0 248.4,616.5 255.0,621.5 263.4,618.0 270.8,618.0 279.0,623.7 287.0,618.2 294.6,621.0 303.5,616.2 311.2,619.5 320.0,617.7 327.5,615.7 335.0,619.5 343.7,630.7 351.2,633.7 360.0,635.7 367.4,635.7 376.0,638.9 383.6,638.9 391.9,631.9 399.9,633.9 419.8,633.9 423.6,634.9 431.0,634.9 439.8,638.2 447.3,638.2 455.3,635.7 463.5,640.2 471.0,638.7 479.7,640.2 487.2,641.9 496.0,645.2 507.2,645.2 514.7,646.4 527.2,651.4 535.9,650.7 540.9,651.9 549.6,653.2 575.8,653.2 583.3,647.7 590.8,651.2 599.6,642.7 607.0,642.7 615.0,638.9 623.7,638.9 631.2,634.4 638.7,633.7 647.9,638.2 654.9,634.9 663.7,638.2 671.1,638.9 679.4,635.7 687.4,638.9 696.1,642.4 702.8,643.9 711.1,639.9 727.3,639.9 734.8,636.2 742.3,634.9 763.5,634.9 771.0,636.9 777.2,639.9 784.0,643.9 791.0,640.7 799.7,641.9 807.2,640.9 814.7,640.9 823.4,634.9 830.9,635.7 839.6,627.0 847.1,627.7 855.9,631.9 863.4,629.9 872.1,625.0 879.6,623.2 887.0,624.0 894.6,625.0 903.7,625.0 911.2,628.7 918.7,629.9 927.5,627.7 935.0,629.9 942.9,627.7 952.4,636.9 959.9,640.7 967.4,641.9 974.9,638.9 983.6,644.9 991.1,641.9 999.9,641.9 1007.3,643.9 1014.8,646.9 1023.6,642.4 1031.0,640.9 1039.8,641.9 1047.3,638.9 1056.0,639.9 1063.5,638.2 1071.7,631.9 1079.7,632.7 1087.2,633.9 1096.0,637.9 1103.4,634.9 1110.9,634.9 1119.7,628.9 1128.4,632.9 1135.9,632.9 1143.4,631.9 1152.1,635.9 1159.6,636.9 1167.1,637.9 1174.6,638.9"/>
</g>
<g shape-rendering="crispEdges" fill="#000">
<rect x="6" y="5" width="1189" height="1"/>
<rect x="6" y="477" width="1189" height="1"/>
<rect x="6" y="5" width="1" height="473"/>
<rect x="1194" y="5" width="1" height="473"/>
<rect x="6" y="479" width="1189" height="1"/>
<rect x="6" y="594" width="1189" height="1"/>
<rect x="6" y="479" width="1" height="116"/>
<rect x="1194" y="479" width="1" height="116"/>
<rect x="6" y="596" width="1189" height="1"/>
<rect x="6" y="671" width="1189" height="1"/>
<rect x="6" y="596" width="1" height="76"/>
<rect x="1194" y="596" width="1" height="76"/>
<rect x="7" y="672" width="1" height="3"/>
<rect x="71" y="672" width="1" height="3"/>
<rect x="135" y="672" width="1" height="3"/>
<rect x="199" y="672" width="1" height="3"/>
<rect x="263" y="672" width="1" height="3"/>
<rect x="327" y="672" width="1" height="3"/>
<rect x="391" y="672" width="1" height="3"/>
<rect x="455" y="672" width="1" height="3"/>
<rect x="519" y="672" width="1" height="3"/>
<rect x="583" y="672" width="1" height="3"/>
<rect x="647" y="672" width="1" height="3"/>
<rect x="711" y="672" width="1" height="3"/>
<rect x="775" y="672" width="1" height="3"/>
<rect x="839" y="672" width="1" height="3"/>
<rect x="903" y="672" width="1" height="3"/>
<rect x="967" y="672" width="1" height="3"/>
<rect x="1031" y="672" width="1" height="3"/>
<rect x="1095" y="672" width="1" height="3"/>
<rect x="1159" y="672" width="1" height="3"/>
<rect x="1195" y="12" width="2" height="1"/>
<rect x="1195" y="45" width="2" height="1"/>
<rect x="1195" y="78" width="2" height="1"/>
<rect x="1195" y="111" width="2" height="1"/>
<rect x="1195" y="144" width="2" height="1"/>
<rect x="1195" y="177" width="2" height="1"/>
<rect x="1195" y="210" width="2" height="1"/>
<rect x="1195" y="243" width="2" height="1"/>
<rect x="1195" y="276" width="2" height="1"/>
<rect x="1195" y="309" width="2" height="1"/>
<rect x="1195" y="342" width="2" height="1"/>
<rect x="1195" y="375" width="2" height="1"/>
<rect x="1195" y="408" width="2" height="1"/>
<rect x="1195" y="441" width="2" height="1"/>
<rect x="1195" y="474" width="2" height="1"/>
<rect x="1195" y="481" width="1" height="1"/>
<rect x="1195" y="548" width="1" height="1"/>
<rect x="1195" y="593" width="1" height="1"/>
<rect x="1195" y="598" width="1" height="1"/>
<rect x="1195" y="670" width="1" height="1"/>
</g>
<g shape-rendering="crispEdges">
<rect x="7" y="198" width="1190" height="2" fill="#ff0000"/>
<rect x="7" y="258" width="1190" height="2" fill="#ff0000"/>
<rect x="7" y="331" width="1190" height="2" fill="#ff0000"/>
<rect x="7" y="404" width="1190" height="2" fill="#00cc00"/>
<rect x="7" y="464" width="1190" height="2" fill="#3c50e6"/>
</g>
<path d="M10 12h7l-3.5 4z" fill="#000" shape-rendering="crispEdges"/>
<g opacity="0.999">
<text transform="translate(21.70 17.00) scale(0.9150 1)" style="font-size:10.2px;fill:#000;stroke:#000;stroke-width:0.22px">XAUUSD-,H4&#160;&#160;1925.82 1926.78 1917.91 1925.25</text>
<text transform="translate(10.30 492.00) scale(0.9150 1)" style="font-size:10.2px;fill:#000;stroke:#000;stroke-width:0.22px">MACD(12,26,9) -0.915 -0.256</text>
<text transform="translate(10.30 609.00) scale(0.9150 1)" style="font-size:10.2px;fill:#000;stroke:#000;stroke-width:0.22px">RSI(14) 45.0358</text>
<clipPath id="cp"><rect x="1195" y="0" width="47" height="478"/></clipPath><g clip-path="url(#cp)">
<text transform="translate(1199.70 16.00) scale(0.9150 1)" style="font-size:10.2px;fill:#000;stroke:#000;stroke-width:0.22px">2077.00</text>
<text transform="translate(1199.70 49.00) scale(0.9150 1)" style="font-size:10.2px;fill:#000;stroke:#000;stroke-width:0.22px">2063.40</text>
<text transform="translate(1199.70 82.00) scale(0.9150 1)" style="font-size:10.2px;fill:#000;stroke:#000;stroke-width:0.22px">2049.80</text>
<text transform="translate(1199.70 115.00) scale(0.9150 1)" style="font-size:10.2px;fill:#000;stroke:#000;stroke-width:0.22px">2036.20</text>
<text transform="translate(1199.70 148.00) scale(0.9150 1)" style="font-size:10.2px;fill:#000;stroke:#000;stroke-width:0.22px">2022.60</text>
<text transform="translate(1199.70 181.00) scale(0.9150 1)" style="font-size:10.2px;fill:#000;stroke:#000;stroke-width:0.22px">2009.00</text>
<text transform="translate(1199.70 214.00) scale(0.9150 1)" style="font-size:10.2px;fill:#000;stroke:#000;stroke-width:0.22px">1995.40</text>
<text transform="translate(1199.70 247.00) scale(0.9150 1)" style="font-size:10.2px;fill:#000;stroke:#000;stroke-width:0.22px">1981.80</text>
<text transform="translate(1199.70 280.00) scale(0.9150 1)" style="font-size:10.2px;fill:#000;stroke:#000;stroke-width:0.22px">1968.20</text>
<text transform="translate(1199.70 313.00) scale(0.9150 1)" style="font-size:10.2px;fill:#000;stroke:#000;stroke-width:0.22px">1954.60</text>
<text transform="translate(1199.70 346.00) scale(0.9150 1)" style="font-size:10.2px;fill:#000;stroke:#000;stroke-width:0.22px">1941.00</text>
<text transform="translate(1199.70 379.00) scale(0.9150 1)" style="font-size:10.2px;fill:#000;stroke:#000;stroke-width:0.22px">1927.40</text>
<text transform="translate(1199.70 412.00) scale(0.9150 1)" style="font-size:10.2px;fill:#000;stroke:#000;stroke-width:0.22px">1913.80</text>
<text transform="translate(1199.70 445.00) scale(0.9150 1)" style="font-size:10.2px;fill:#000;stroke:#000;stroke-width:0.22px">1900.20</text>
<text transform="translate(1199.70 478.00) scale(0.9150 1)" style="font-size:10.2px;fill:#000;stroke:#000;stroke-width:0.22px">1886.60</text>
</g>
<rect x="1197" y="193" width="39" height="11" fill="#ff0000" shape-rendering="crispEdges"/>
<text transform="translate(1199.70 202.00) scale(0.9150 1)" style="font-size:10.2px;fill:#fff;stroke:#fff;stroke-width:0.22px">2000.00</text>
<rect x="1197" y="253" width="39" height="11" fill="#ff0000" shape-rendering="crispEdges"/>
<text transform="translate(1199.70 262.00) scale(0.9150 1)" style="font-size:10.2px;fill:#fff;stroke:#fff;stroke-width:0.22px">1975.00</text>
<rect x="1197" y="326" width="39" height="11" fill="#ff0000" shape-rendering="crispEdges"/>
<text transform="translate(1199.70 335.00) scale(0.9150 1)" style="font-size:10.2px;fill:#fff;stroke:#fff;stroke-width:0.22px">1945.00</text>
<rect x="1197" y="375" width="39" height="11" fill="#000000" shape-rendering="crispEdges"/>
<text transform="translate(1199.70 384.00) scale(0.9150 1)" style="font-size:10.2px;fill:#fff;stroke:#fff;stroke-width:0.22px">1925.25</text>
<rect x="1197" y="399" width="39" height="11" fill="#00cc00" shape-rendering="crispEdges"/>
<text transform="translate(1199.70 408.00) scale(0.9150 1)" style="font-size:10.2px;fill:#fff;stroke:#fff;stroke-width:0.22px">1915.00</text>
<rect x="1197" y="459" width="39" height="11" fill="#3c50e6" shape-rendering="crispEdges"/>
<text transform="translate(1199.70 468.00) scale(0.9150 1)" style="font-size:10.2px;fill:#fff;stroke:#fff;stroke-width:0.22px">1890.00</text>
<text transform="translate(1197.30 490.00) scale(0.9150 1)" style="font-size:10.2px;fill:#000;stroke:#000;stroke-width:0.22px">31.37</text>
<text transform="translate(1197.30 552.00) scale(0.9150 1)" style="font-size:10.2px;fill:#000;stroke:#000;stroke-width:0.22px">0.00</text>
<text transform="translate(1197.60 591.00) scale(0.9150 1)" style="font-size:10.2px;fill:#000;stroke:#000;stroke-width:0.22px">-21.154</text>
<text transform="translate(1198.00 607.00) scale(0.9150 1)" style="font-size:10.2px;fill:#000;stroke:#000;stroke-width:0.22px">100</text>
<text transform="translate(1196.30 623.00) scale(0.9150 1)" style="font-size:10.2px;fill:#000;stroke:#000;stroke-width:0.22px">70</text>
<text transform="translate(1196.30 653.00) scale(0.9150 1)" style="font-size:10.2px;fill:#000;stroke:#000;stroke-width:0.22px">30</text>
<text transform="translate(1197.30 668.00) scale(0.9150 1)" style="font-size:10.2px;fill:#000;stroke:#000;stroke-width:0.22px">0</text>
<text transform="translate(5.50 684.00) scale(0.9150 1)" style="font-size:10.2px;fill:#000;stroke:#000;stroke-width:0.22px">28 Feb 2022</text>
<text transform="translate(69.50 684.00) scale(0.9150 1)" style="font-size:10.2px;fill:#000;stroke:#000;stroke-width:0.22px">1 Mar 16:00</text>
<text transform="translate(133.50 684.00) scale(0.9150 1)" style="font-size:10.2px;fill:#000;stroke:#000;stroke-width:0.22px">3 Mar 00:00</text>
<text transform="translate(197.50 684.00) scale(0.9150 1)" style="font-size:10.2px;fill:#000;stroke:#000;stroke-width:0.22px">4 Mar 08:00</text>
<text transform="translate(261.50 684.00) scale(0.9150 1)" style="font-size:10.2px;fill:#000;stroke:#000;stroke-width:0.22px">7 Mar 16:00</text>
<text transform="translate(325.50 684.00) scale(0.9150 1)" style="font-size:10.2px;fill:#000;stroke:#000;stroke-width:0.22px">9 Mar 00:00</text>
<text transform="translate(389.50 684.00) scale(0.9150 1)" style="font-size:10.2px;fill:#000;stroke:#000;stroke-width:0.22px">10 Mar 08:00</text>
<text transform="translate(453.50 684.00) scale(0.9150 1)" style="font-size:10.2px;fill:#000;stroke:#000;stroke-width:0.22px">11 Mar 16:00</text>
<text transform="translate(517.50 684.00) scale(0.9150 1)" style="font-size:10.2px;fill:#000;stroke:#000;stroke-width:0.22px">15 Mar 00:00</text>
<text transform="translate(581.50 684.00) scale(0.9150 1)" style="font-size:10.2px;fill:#000;stroke:#000;stroke-width:0.22px">16 Mar 08:00</text>
<text transform="translate(645.50 684.00) scale(0.9150 1)" style="font-size:10.2px;fill:#000;stroke:#000;stroke-width:0.22px">17 Mar 16:00</text>
<text transform="translate(709.50 684.00) scale(0.9150 1)" style="font-size:10.2px;fill:#000;stroke:#000;stroke-width:0.22px">21 Mar 00:00</text>
<text transform="translate(773.50 684.00) scale(0.9150 1)" style="font-size:10.2px;fill:#000;stroke:#000;stroke-width:0.22px">22 Mar 08:00</text>
<text transform="translate(837.50 684.00) scale(0.9150 1)" style="font-size:10.2px;fill:#000;stroke:#000;stroke-width:0.22px">23 Mar 16:00</text>
<text transform="translate(901.50 684.00) scale(0.9150 1)" style="font-size:10.2px;fill:#000;stroke:#000;stroke-width:0.22px">25 Mar 00:00</text>
<text transform="translate(965.50 684.00) scale(0.9150 1)" style="font-size:10.2px;fill:#000;stroke:#000;stroke-width:0.22px">28 Mar 08:00</text>
<text transform="translate(1029.50 684.00) scale(0.9150 1)" style="font-size:10.2px;fill:#000;stroke:#000;stroke-width:0.22px">29 Mar 16:00</text>
<text transform="translate(1093.50 684.00) scale(0.9150 1)" style="font-size:10.2px;fill:#000;stroke:#000;stroke-width:0.22px">31 Mar 00:00</text>
<text transform="translate(1157.50 684.00) scale(0.9150 1)" style="font-size:10.2px;fill:#000;stroke:#000;stroke-width:0.22px">1 Apr 08:00</text>
</g>
</svg></body></html>
